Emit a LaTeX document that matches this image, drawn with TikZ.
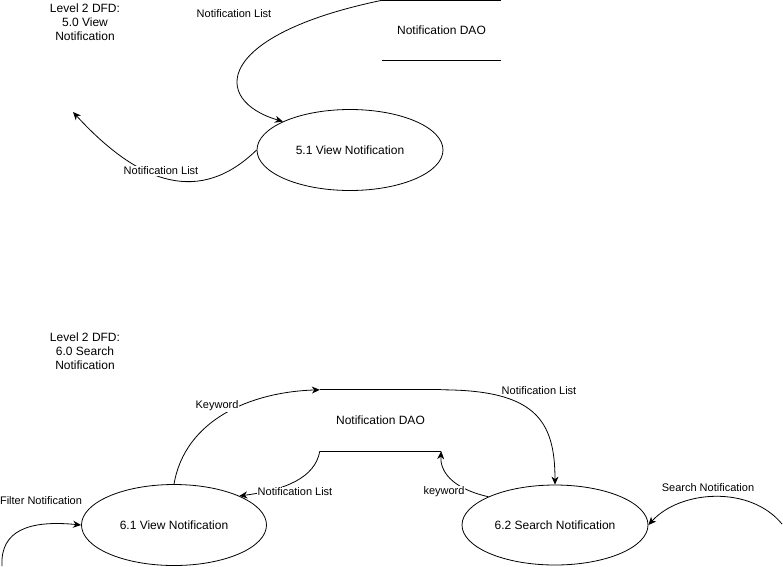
\documentclass[tikz,border=0pt]{standalone}
\usepackage{fontspec}
\setmainfont{Liberation Sans}
\usetikzlibrary{arrows.meta,shapes.geometric}
\begin{document}
\begin{tikzpicture}[x=1pt,y=-1pt,
  proc/.style={ellipse,draw,line width=0.8pt,inner sep=0pt,font=\fontsize{12}{14}\selectfont},
  store/.style={inner sep=0pt,font=\fontsize{12}{14}\selectfont},
  storeline/.style={line width=0.8pt},
  heading/.style={align=center,font=\fontsize{12}{14}\selectfont},
  flow/.style={line width=0.8pt,-{Stealth[length=8pt,width=7pt,inset=2.5pt]}},
  lbl/.style={fill=white,inner sep=1pt,font=\fontsize{11}{13}\selectfont}]
\useasboundingbox (0,0) rectangle (783,566);

% ---------- 5.0 View Notification ----------
\node[heading] (t5) at (85,22) {Level 2 DFD:\\5.0 View\\Notification};
\node[store,minimum width=119pt,minimum height=59.5pt] (dao1) at (441.5,30.25) {Notification DAO};
\draw[storeline] (dao1.north west) -- (dao1.north east);
\draw[storeline] (dao1.south west) -- (dao1.south east);
\node[proc,minimum width=186pt,minimum height=81pt] (p51) at (350,150) {5.1 View Notification};
\coordinate (u1) at (73,112);

\draw[flow] (dao1.north west) .. controls (215,35) and (210,100) .. (p51.157)
  node[lbl] (l51a) at (234,14) {Notification List};
\draw[flow] (p51.west) .. controls (200,205) and (140,185) .. (u1)
  node[lbl] (l51b) at (161,171) {Notification List};

% ---------- 6.0 Search Notification ----------
\node[heading] (t6) at (85,351) {Level 2 DFD:\\6.0 Search\\Notification};
\node[store,minimum width=121pt,minimum height=61pt] (dao2) at (380.5,420.5) {Notification DAO};
\draw[storeline] (dao2.north west) -- (dao2.north east);
\draw[storeline] (dao2.south west) -- (dao2.south east);
\node[proc,minimum width=185pt,minimum height=81pt] (p61) at (174,525) {6.1 View Notification};
\node[proc,minimum width=186pt,minimum height=80pt] (p62) at (555,525) {6.2 Search Notification};
\coordinate (s1) at (782,524);
\coordinate (f1) at (2,566);

\draw[flow] (p61.north) .. controls (185,420) and (250,392) .. (dao2.north west)
  node[lbl] (l61k) at (217,406) {Keyword};
\draw[flow] (dao2.south west) .. controls (315,478) and (285,490) .. (p61.24)
  node[lbl] (l61n) at (295,492) {Notification List};
\draw[flow] (dao2.north east) .. controls (535,390) and (555,420) .. (p62.north)
  node[lbl] (l62n) at (539,391) {Notification List};
\draw[flow] (p62.157) .. controls (450,488) and (440,470) .. (dao2.south east)
  node[lbl] (l62k) at (444,492) {keyword};
\draw[flow] (s1) .. controls (750,485) and (680,490) .. (p62.east)
  node[lbl] (l62s) at (708,488) {Search Notification};
\draw[flow] (f1) .. controls (0,530) and (30,520) .. (p61.west)
  node[lbl] (l61f) at (41,501) {Filter Notification};
\end{tikzpicture}
\end{document}
